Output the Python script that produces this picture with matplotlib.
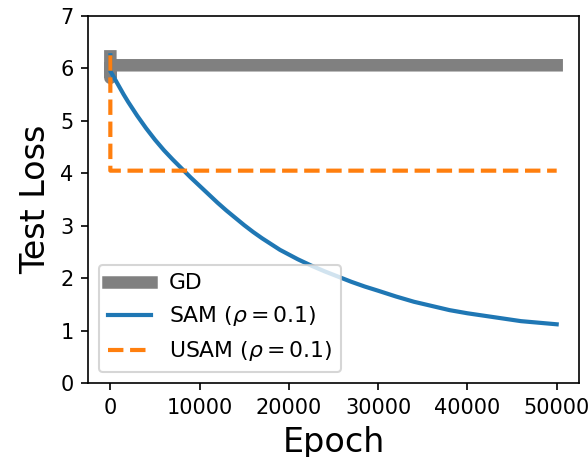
import matplotlib
matplotlib.use("Agg")

import matplotlib.pyplot as plt

# Values
gd_epochs = [0, 1, 2, 50000]
gd_loss = [6.23, 5.82, 6.06, 6.06]

sam_epochs = [0, 1, 500, 1000, 1500, 2000, 2500, 3000, 4000, 5000, 6000, 7000,
              8000, 9000, 10000, 11000, 12000, 13000, 14000, 15000, 16000, 17000,
              18000, 19000, 20000, 21000, 22500, 24000, 25500, 27000, 28500,
              30000, 32000, 34000, 36000, 38000, 40000, 42000, 44000, 46000,
              48000, 50000]
sam_loss = [6.25, 5.95, 5.80, 5.65, 5.50, 5.36, 5.23, 5.10, 4.86, 4.64, 4.44, 4.26,
            4.09, 3.92, 3.76, 3.60, 3.44, 3.29, 3.15, 3.01, 2.88, 2.76,
            2.65, 2.54, 2.45, 2.36, 2.24, 2.13, 2.03, 1.93, 1.84,
            1.76, 1.65, 1.55, 1.47, 1.39, 1.33, 1.28, 1.23, 1.18,
            1.15, 1.12]

usam_epochs = [0, 1, 50000]
usam_loss = [6.25, 4.05, 4.05]

yticks = [0, 1, 2, 3, 4, 5, 6, 7]

fig = plt.figure(figsize=(588 / 150, 457 / 150), dpi=150)
ax = fig.add_axes([0.1497, 0.1619, 0.835, 0.8031])

ax.plot(gd_epochs, gd_loss, color="gray", lw=6, label="GD")
ax.plot(sam_epochs, sam_loss, color="#1f77b4", lw=2, label=r"SAM ($\rho = 0.1$)")
ax.plot(usam_epochs, usam_loss, color="#ff7f0e", lw=2, ls="--",
        label=r"USAM ($\rho = 0.1$)")

ax.set_ylim(0, 7)
ax.set_yticks(yticks)
ax.set_xticks([0, 10000, 20000, 30000, 40000, 50000])
ax.tick_params(labelsize=10)
ax.set_xlabel("Epoch", fontsize=16)
ax.set_ylabel("Test Loss", fontsize=16)
ax.legend(loc="lower left", fontsize=10.5)

fig.savefig("out.png", dpi=150)
